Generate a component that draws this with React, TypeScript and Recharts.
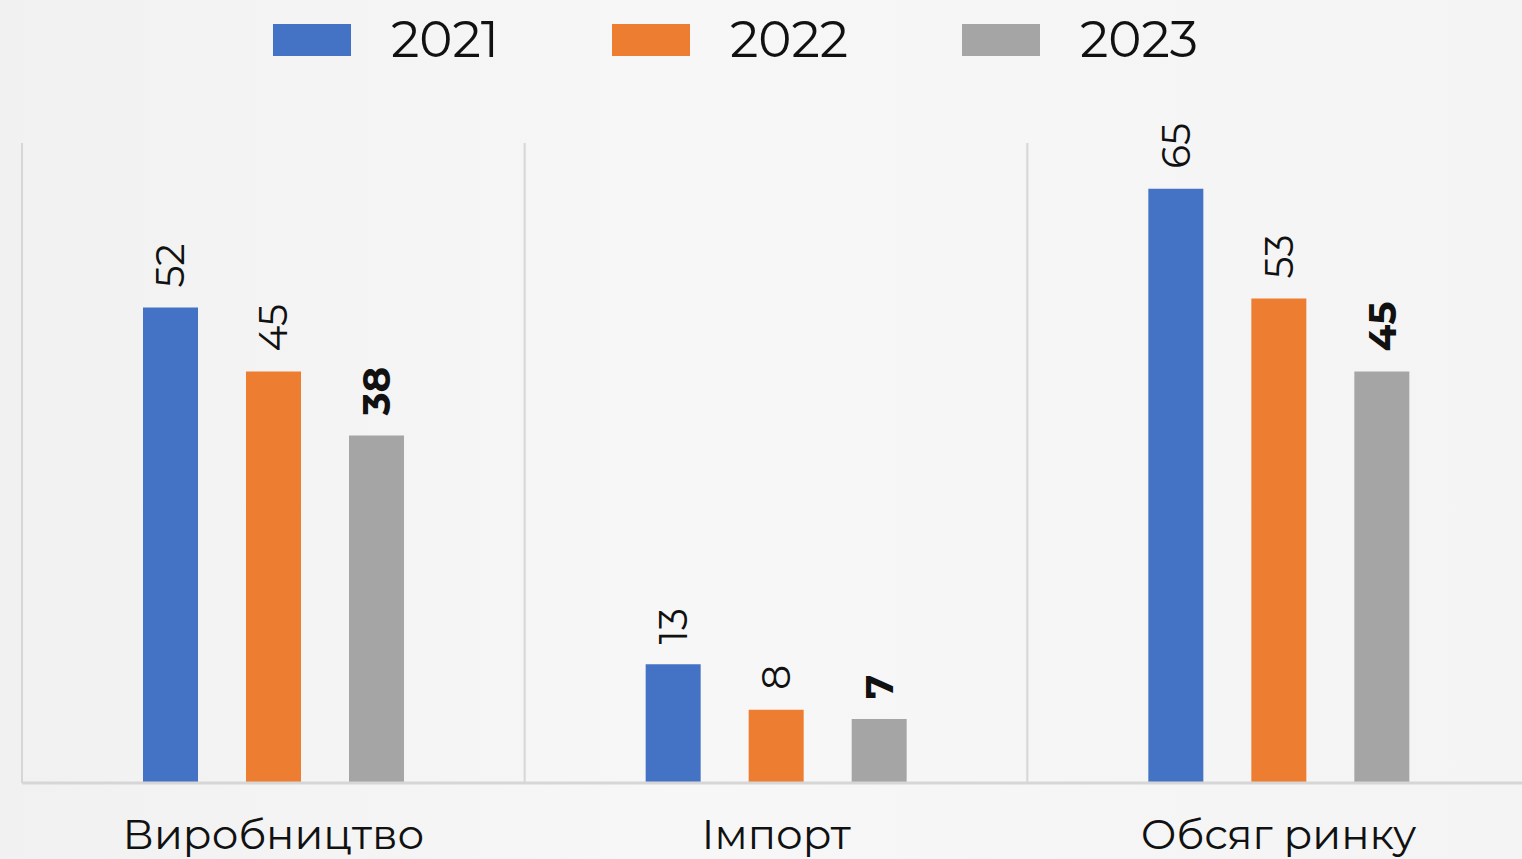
import React from "react";
import { BarChart, Bar, XAxis, YAxis, CartesianGrid, Legend, LabelList } from "recharts";

const categories = ["Виробництво", "Імпорт", "Обсяг ринку"];
const series2021 = [52, 13, 65];
const series2022 = [45, 8, 53];
const series2023 = [38, 7, 45];
const seriesNames = ["2021", "2022", "2023"];
const seriesColors = ["#4472C4", "#ED7D31", "#A5A5A5"];

const data = categories.map((c, i) => ({
  name: c,
  "2021": series2021[i],
  "2022": series2022[i],
  "2023": series2023[i],
}));

const FONT = "Montserrat, 'Open Sans', 'DejaVu Sans', sans-serif";
const legendItemWidths = [339, 350, 0];

const makeLabel = (bold: boolean) => (props: any) => {
  const { x, y, width, value } = props;
  const cx = Number(x) + Number(width) / 2;
  const ty = Number(y) - 20;
  return (
    <text
      x={cx}
      y={ty}
      transform={`rotate(-90, ${cx}, ${ty})`}
      textAnchor="start"
      dominantBaseline="central"
      fontSize={39}
      fontWeight={bold ? 700 : 400}
      fill="#111"
      fontFamily={FONT}
    >
      {value}
    </text>
  );
};

const LegendContent = () => (
  <div style={{ display: "flex", alignItems: "center", fontFamily: FONT }}>
    {seriesNames.map((n, i) => (
      <div
        key={n}
        style={{ display: "flex", alignItems: "center", width: legendItemWidths[i] || "auto" }}
      >
        <div style={{ width: 78, height: 32, background: seriesColors[i], marginRight: 40 }} />
        <span style={{ fontSize: 50, color: "#111", lineHeight: "56px" }}>{n}</span>
      </div>
    ))}
  </div>
);

export default function App() {
  return (
    <div
      style={{
        position: "absolute",
        left: 0,
        top: 0,
        width: 1522,
        height: 859,
        overflow: "hidden",
        background: "linear-gradient(90deg, #f1f1f1 0%, #f7f7f7 45%, #f4f4f4 100%)",
      }}
    >
      <BarChart
        width={1540}
        height={859}
        data={data}
        margin={{ top: 87, right: 10, left: 22, bottom: 8 }}
        barCategoryGap="24%"
        barGap={48}
        barSize={55}
      >
        <Legend
          verticalAlign="top"
          align="left"
          content={<LegendContent />}
          wrapperStyle={{ top: 12, left: 273, width: 1100, height: 56 }}
        />
        <CartesianGrid
          horizontal={false}
          stroke="#d6d6d6"
          strokeWidth={2}
          verticalCoordinatesGenerator={({ offset }: any) => [
            offset.left,
            offset.left + offset.width / 3,
            offset.left + (2 * offset.width) / 3,
            offset.left + offset.width,
          ]}
        />
        <XAxis
          dataKey="name"
          height={68}
          axisLine={{ stroke: "#d6d6d6", strokeWidth: 3 }}
          tickLine={false}
          tickMargin={30}
          tick={{ fontSize: 42, fill: "#111", fontFamily: FONT }}
        />
        <YAxis hide domain={[0, 70]} />
        {seriesNames.map((n, i) => (
          <Bar key={n} dataKey={n} fill={seriesColors[i]} isAnimationActive={false}>
            <LabelList dataKey={n} content={makeLabel(i === 2)} />
          </Bar>
        ))}
      </BarChart>
    </div>
  );
}
